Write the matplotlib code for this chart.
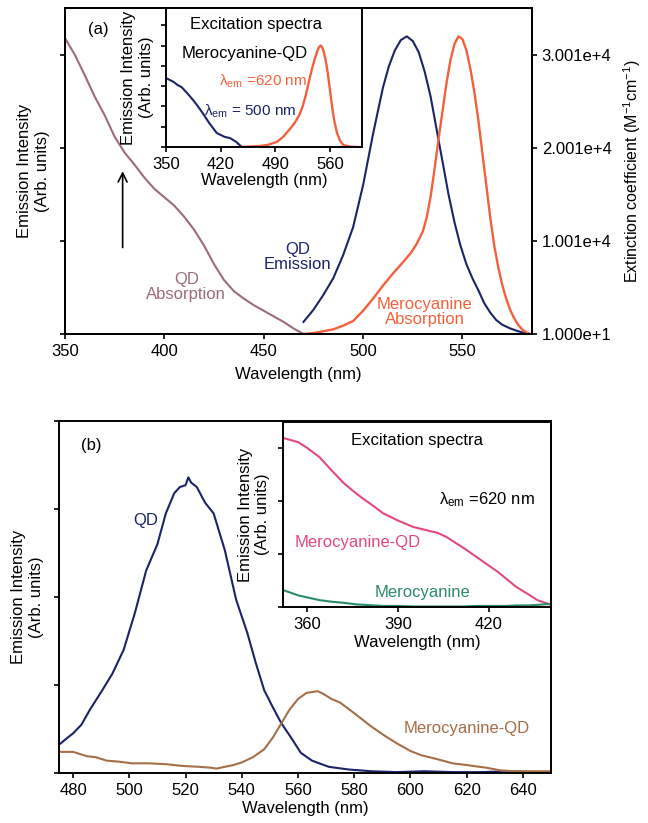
import matplotlib
matplotlib.use("Agg")
import matplotlib.pyplot as plt
from matplotlib.ticker import FuncFormatter

plt.rcParams['font.family'] = ['Liberation Sans', 'DejaVu Sans']
plt.rcParams['mathtext.fontset'] = 'custom'
plt.rcParams['mathtext.rm'] = 'Liberation Sans'
plt.rcParams['mathtext.it'] = 'Liberation Sans:italic'
plt.rcParams['mathtext.default'] = 'regular'

# ---------------- Panel (a) data ----------------
qd_abs_wl = [350, 355, 360, 365, 370, 375, 380, 385, 390, 395, 400, 405, 410, 415,
             420, 425, 430, 435, 440, 445, 450, 455, 460, 465, 470]
qd_abs_eps = [31810, 30010, 27810, 25510, 23510, 21210, 19510, 18210, 16810, 15610,
              14710, 13810, 12610, 11210, 9510, 7510, 5810, 4610, 3810, 3110,
              2510, 1910, 1310, 610, 10]

qd_em_wl = [470, 475, 480, 485, 490, 495, 500, 505, 510, 513, 516, 519, 522, 525, 528,
            531, 534, 537, 540, 543, 546, 549, 552, 555, 558, 561, 564, 567, 570, 574,
            578, 583]
qd_em_int = [0.13, 0.26, 0.42, 0.60, 0.85, 1.15, 1.60, 2.15, 2.65, 2.88, 3.05, 3.16,
             3.20, 3.15, 3.03, 2.82, 2.55, 2.20, 1.85, 1.50, 1.20, 0.95, 0.75, 0.60,
             0.47, 0.33, 0.23, 0.15, 0.10, 0.06, 0.03, 0.0]

mc_abs_wl = [470, 475, 480, 485, 490, 495, 500, 505, 510, 515, 520, 524, 527, 530, 532,
             534, 536, 538, 540, 542, 544, 546, 548, 550, 552, 554, 556, 558, 560, 562,
             564, 566, 568, 570, 572, 574, 576, 578, 580, 582, 584]
mc_abs_eps = [10, 110, 310, 510, 910, 1410, 2510, 3810, 5210, 6510, 7710, 8710, 9710,
              11010, 12510, 14810, 17810, 21010, 24010, 27010, 29510, 31210, 32010,
              31710, 30510, 28510, 26010, 23010, 19510, 16010, 12510, 9510, 7210, 5310,
              3810, 2610, 1710, 1010, 510, 210, 10]

# inset (a): excitation spectra of Merocyanine-QD
exc500_wl = [350, 355, 360, 365, 370, 377, 385, 390, 397, 405, 415, 425, 432, 440, 447]
exc500_int = [3.40, 3.30, 3.20, 3.05, 2.95, 2.66, 2.30, 2.05, 1.67, 1.20, 0.69, 0.50,
              0.44, 0.25, 0.0]
exc620_wl = [447, 460, 470, 480, 492, 500, 509, 515, 521, 525, 529, 532, 535, 538, 541,
             544, 546, 548, 550, 552, 554, 556, 558, 560, 562, 564, 566, 569, 573, 577,
             585, 595]
exc620_int = [0.0, 0.03, 0.05, 0.10, 0.25, 0.50, 0.90, 1.20, 1.60, 2.00, 2.55, 3.05,
              3.55, 4.00, 4.40, 4.75, 4.92, 5.00, 4.92, 4.70, 4.35, 3.95, 3.40, 2.80,
              2.20, 1.65, 1.20, 0.70, 0.30, 0.10, 0.02, 0.0]

# ---------------- Panel (b) data ----------------
qd_b_wl = [475, 478, 480, 483, 486, 490, 494, 498, 502, 506, 510, 513, 516, 518, 520,
           521, 522, 524, 527, 530, 534, 538, 542, 545, 548, 551, 554, 558, 561, 565,
           571, 578, 586, 595, 605, 615, 625, 635, 645, 650]
qd_b_int = [0.32, 0.40, 0.45, 0.55, 0.72, 0.92, 1.13, 1.40, 1.82, 2.30, 2.60, 2.95, 3.18,
            3.25, 3.27, 3.36, 3.30, 3.25, 3.07, 2.95, 2.53, 1.97, 1.59, 1.25, 0.94,
            0.75, 0.57, 0.38, 0.23, 0.14, 0.07, 0.04, 0.02, 0.01, 0.02, 0.01, 0.01,
            0.02, 0.01, 0.01]

mcqd_b_wl = [475, 480, 485, 488, 492, 496, 501, 507, 513, 519, 525, 529, 531, 534,
             537, 540, 544, 548, 551, 554, 557, 560, 563, 565, 567, 569, 572, 575,
             580, 586, 591, 595, 600, 604, 608, 615, 620, 627, 632, 637, 643, 650]
mcqd_b_int = [0.24, 0.24, 0.19, 0.18, 0.14, 0.13, 0.11, 0.11, 0.10, 0.08, 0.07, 0.06,
              0.05, 0.07, 0.09, 0.12, 0.18, 0.27, 0.40, 0.56, 0.72, 0.84, 0.91, 0.92,
              0.93, 0.90, 0.84, 0.80, 0.68, 0.53, 0.42, 0.34, 0.25, 0.20, 0.17, 0.11,
              0.09, 0.06, 0.03, 0.02, 0.02, 0.02]

# inset (b): excitation spectra, lambda_em = 620 nm
inb_wl = [352, 357, 360, 364, 368, 372, 376, 379, 382, 385, 390, 395, 400, 403, 406,
          409, 412, 416, 419, 423, 426, 429, 433, 436, 440.5]
inb_mcqd = [3.19, 3.11, 3.00, 2.83, 2.58, 2.34, 2.15, 2.02, 1.90, 1.77, 1.63, 1.51,
            1.44, 1.40, 1.32, 1.21, 1.10, 0.94, 0.82, 0.66, 0.52, 0.38, 0.24, 0.13, 0.04]
inb_mc = [0.32, 0.22, 0.18, 0.13, 0.10, 0.08, 0.05, 0.04, 0.03, 0.02, 0.02, 0.01,
          0.01, 0.01, 0.01, 0.01, 0.01, 0.02, 0.02, 0.02, 0.02, 0.03, 0.03, 0.04, 0.06]

NAVY = '#1b2466'
MAUVE = '#9c6c7e'
RED = '#f2613c'
BROWN = '#a66f48'
PINK = '#e2497c'
GREEN = '#2b8a68'

FS = 12

fig = plt.figure(figsize=(6.48, 8.23), dpi=100)


def style(ax, lw=1.4):
    for s in ax.spines.values():
        s.set_linewidth(lw)
    ax.tick_params(direction='out', length=3.5, width=1.2, labelsize=FS)


def sci(v, pos):
    m, e = f"{v:.3e}".split('e')
    return f"{m}e+{int(e)}"

# ---------------- Panel (a) ----------------
axa = fig.add_axes([65 / 648, 1 - 334 / 823, 467 / 648, 326 / 823])
axa2 = axa.twinx()
axa.plot(qd_em_wl, qd_em_int, color=NAVY, lw=1.5)
axa2.plot(qd_abs_wl, qd_abs_eps, color=MAUVE, lw=1.5)
axa2.plot(mc_abs_wl, mc_abs_eps, color=RED, lw=1.7)
axa.set_xlim(350, 585)
axa.set_ylim(0, 3.505)
axa2.set_ylim(10, 35060)
axa.set_yticks([0, 1, 2, 3])
axa.set_yticklabels([])
axa2.set_yticks([10, 10010, 20010, 30010])
axa2.yaxis.set_major_formatter(FuncFormatter(sci))
axa.set_xticks([350, 400, 450, 500, 550])
style(axa)
style(axa2)
axa.set_xlabel('Wavelength (nm)', fontsize=FS, labelpad=6)
axa.set_ylabel('Emission Intensity\n(Arb. units)', fontsize=FS, labelpad=4)
axa2.set_ylabel(r'Extinction coefficient (M$^{-1}$cm$^{-1}$)', fontsize=FS - 0.5,
                labelpad=7)
axa.text(0.05, 0.935, '(a)', transform=axa.transAxes, fontsize=FS, ha='left', va='center')
axa.annotate('', xy=(379, 1.78), xytext=(379, 0.9),
             arrowprops=dict(arrowstyle='->', lw=1.2, color='black', mutation_scale=16))
axa.text(411, 0.5, 'QD\nAbsorption', color=MAUVE, fontsize=FS, ha='center', va='center',
         linespacing=1.0)
axa.text(467, 0.83, 'QD\nEmission', color=NAVY, fontsize=FS, ha='center', va='center',
         linespacing=1.0)
axa.text(531, 0.24, 'Merocyanine\nAbsorption', color=RED, fontsize=FS, ha='center',
         va='center', linespacing=1.0)

# inset (a)
ina = fig.add_axes([166 / 648, 1 - 147 / 823, 196 / 648, 139 / 823])
ina.plot(exc500_wl, exc500_int, color=NAVY, lw=1.5)
ina.plot(exc620_wl, exc620_int, color=RED, lw=1.7)
ina.set_xlim(350, 601)
ina.set_ylim(0, 6.85)
ina.set_xticks([350, 420, 490, 560])
ina.set_yticks([0, 1, 2, 3, 4, 5, 6])
ina.set_yticklabels([])
style(ina)
ina.set_xlabel('Wavelength (nm)', fontsize=FS, labelpad=1)
ina.set_ylabel('Emission Intensity\n(Arb. units)', fontsize=FS, labelpad=2)
ina.text(0.46, 0.88, 'Excitation spectra', transform=ina.transAxes, fontsize=FS,
         ha='center', va='center')
ina.text(0.40, 0.67, 'Merocyanine-QD', transform=ina.transAxes, fontsize=FS,
         ha='center', va='center')
ina.text(0.495, 0.47, r'$\lambda_{em}$ =620 nm', transform=ina.transAxes, fontsize=FS - 1,
         color=RED, ha='center', va='center')
ina.text(0.43, 0.26, r'$\lambda_{em}$ = 500 nm', transform=ina.transAxes, fontsize=FS - 1,
         color=NAVY, ha='center', va='center')

# ---------------- Panel (b) ----------------
axb = fig.add_axes([59 / 648, 1 - 773 / 823, 492 / 648, 352 / 823])
axb.plot(qd_b_wl, qd_b_int, color=NAVY, lw=1.5)
axb.plot(mcqd_b_wl, mcqd_b_int, color=BROWN, lw=1.5)
axb.set_xlim(475, 650)
axb.set_ylim(0, 4)
axb.set_yticks([0, 1, 2, 3, 4])
axb.set_yticklabels([])
axb.set_xticks(range(480, 641, 20))
style(axb)
axb.set_xlabel('Wavelength (nm)', fontsize=FS, labelpad=2)
axb.set_ylabel('Emission Intensity\n(Arb. units)', fontsize=FS, labelpad=4)
axb.text(0.045, 0.93, '(b)', transform=axb.transAxes, fontsize=FS, ha='left', va='center')
axb.text(506, 2.87, 'QD', color=NAVY, fontsize=FS, ha='center', va='center')
axb.text(620, 0.51, 'Merocyanine-QD', color=BROWN, fontsize=FS, ha='center', va='center')

# inset (b)
inb = fig.add_axes([283 / 648, 1 - 607 / 823, 268 / 648, 185 / 823])
inb.plot(inb_wl, inb_mcqd, color=PINK, lw=1.5)
inb.plot(inb_wl, inb_mc, color=GREEN, lw=1.5)
inb.set_xlim(352, 440.5)
inb.set_ylim(0, 3.49)
inb.set_xticks([360, 390, 420])
inb.set_yticks([0, 1, 2, 3])
inb.set_yticklabels([])
style(inb)
inb.set_xlabel('Wavelength (nm)', fontsize=FS, labelpad=2)
inb.set_ylabel('Emission Intensity\n(Arb. units)', fontsize=FS, labelpad=2)
inb.text(0.5, 0.9, 'Excitation spectra', transform=inb.transAxes, fontsize=FS,
         ha='center', va='center')
inb.text(0.76, 0.58, r'$\lambda_{em}$ =620 nm', transform=inb.transAxes, fontsize=FS,
         ha='center', va='center')
inb.text(0.28, 0.35, 'Merocyanine-QD', transform=inb.transAxes, fontsize=FS, color=PINK,
         ha='center', va='center')
inb.text(0.52, 0.08, 'Merocyanine', transform=inb.transAxes, fontsize=FS, color=GREEN,
         ha='center', va='center')

fig.savefig('out.png', dpi=100)
